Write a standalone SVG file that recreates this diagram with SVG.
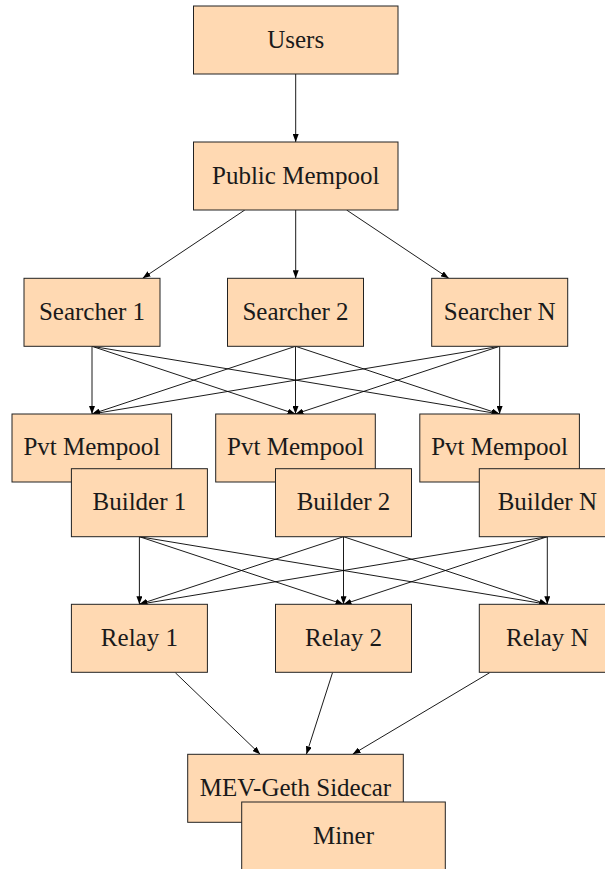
<svg xmlns="http://www.w3.org/2000/svg" width="605" height="869" viewBox="0 0 605 869">
<style>
.box{fill:#FFD9B2;stroke:#222;stroke-width:1}
.lbl{font-family:"Liberation Serif","Times New Roman",serif;font-size:25px;fill:#1a1a1a;text-anchor:middle}
.c{stroke:#000;stroke-width:0.9;fill:none;marker-end:url(#ah)}
</style>
<defs>
<marker id="ah" viewBox="0 0 8 6" refX="8" refY="3" markerWidth="8" markerHeight="6" markerUnits="userSpaceOnUse" orient="auto">
<path d="M0,0 L8,3 L0,6 Z" fill="#000"/>
</marker>
</defs>
<rect width="605" height="869" fill="#fff"/>
<g id="connectors">
<line class="c" x1="295.7" y1="74" x2="295.7" y2="142"/>
<line class="c" x1="244.8" y1="210" x2="142.6" y2="278.3"/>
<line class="c" x1="295.7" y1="210" x2="295.7" y2="278.3"/>
<line class="c" x1="346.6" y1="210" x2="448.8" y2="278.3"/>
<line class="c" x1="92" y1="346.3" x2="92" y2="414"/>
<line class="c" x1="92" y1="346.3" x2="295.5" y2="414"/>
<line class="c" x1="92" y1="346.3" x2="499.6" y2="414"/>
<line class="c" x1="295.5" y1="346.3" x2="92" y2="414"/>
<line class="c" x1="295.5" y1="346.3" x2="295.5" y2="414"/>
<line class="c" x1="295.5" y1="346.3" x2="499.6" y2="414"/>
<line class="c" x1="499.7" y1="346.3" x2="92" y2="414"/>
<line class="c" x1="499.7" y1="346.3" x2="295.5" y2="414"/>
<line class="c" x1="499.7" y1="346.3" x2="499.6" y2="414"/>
<line class="c" x1="139.4" y1="536.7" x2="139.4" y2="604.3"/>
<line class="c" x1="139.4" y1="536.7" x2="343.5" y2="604.3"/>
<line class="c" x1="139.4" y1="536.7" x2="547.3" y2="604.3"/>
<line class="c" x1="343.5" y1="536.7" x2="139.4" y2="604.3"/>
<line class="c" x1="343.5" y1="536.7" x2="343.5" y2="604.3"/>
<line class="c" x1="343.5" y1="536.7" x2="547.3" y2="604.3"/>
<line class="c" x1="547.3" y1="536.7" x2="139.4" y2="604.3"/>
<line class="c" x1="547.3" y1="536.7" x2="343.5" y2="604.3"/>
<line class="c" x1="547.3" y1="536.7" x2="547.3" y2="604.3"/>
<line class="c" x1="175.3" y1="672.7" x2="260.2" y2="754.3"/>
<line class="c" x1="332.5" y1="672.7" x2="306.4" y2="754.3"/>
<line class="c" x1="489.7" y1="672.7" x2="352.6" y2="754.3"/>
</g>
<g id="users"><rect class="box" x="193.5" y="6" width="204.5" height="68"/><text class="lbl" x="295.7" y="47.5">Users</text></g>
<g id="public-mempool"><rect class="box" x="193.5" y="142" width="204.5" height="68"/><text class="lbl" x="295.7" y="183.5">Public Mempool</text></g>
<g id="searcher-1"><rect class="box" x="24" y="278.3" width="136" height="68"/><text class="lbl" x="92" y="319.5">Searcher 1</text></g>
<g id="searcher-2"><rect class="box" x="227.5" y="278.3" width="136" height="68"/><text class="lbl" x="295.5" y="319.5">Searcher 2</text></g>
<g id="searcher-n"><rect class="box" x="431.7" y="278.3" width="136" height="68"/><text class="lbl" x="499.7" y="319.5">Searcher N</text></g>
<g id="pvt-mempool-1"><rect class="box" x="12" y="414" width="159.6" height="68"/><text class="lbl" x="91.8" y="455">Pvt Mempool</text></g>
<g id="pvt-mempool-2"><rect class="box" x="215.7" y="414" width="159.6" height="68"/><text class="lbl" x="295.5" y="455">Pvt Mempool</text></g>
<g id="pvt-mempool-n"><rect class="box" x="419.8" y="414" width="159.6" height="68"/><text class="lbl" x="499.6" y="455">Pvt Mempool</text></g>
<g id="builder-1"><rect class="box" x="71.4" y="468.7" width="136" height="68"/><text class="lbl" x="139.4" y="510">Builder 1</text></g>
<g id="builder-2"><rect class="box" x="275.5" y="468.7" width="136" height="68"/><text class="lbl" x="343.5" y="510">Builder 2</text></g>
<g id="builder-n"><rect class="box" x="479.3" y="468.7" width="136" height="68"/><text class="lbl" x="547.3" y="510">Builder N</text></g>
<g id="relay-1"><rect class="box" x="71.4" y="604.3" width="136" height="68"/><text class="lbl" x="139.4" y="645.5">Relay 1</text></g>
<g id="relay-2"><rect class="box" x="275.5" y="604.3" width="136" height="68"/><text class="lbl" x="343.5" y="645.5">Relay 2</text></g>
<g id="relay-n"><rect class="box" x="479.3" y="604.3" width="136" height="68"/><text class="lbl" x="547.3" y="645.5">Relay N</text></g>
<g id="mev-geth-sidecar"><rect class="box" x="187.7" y="754.3" width="215.6" height="68"/><text class="lbl" x="295.5" y="795.5">MEV-Geth Sidecar</text></g>
<g id="miner"><rect class="box" x="241.7" y="802" width="203.6" height="68"/><text class="lbl" x="343.5" y="843.5">Miner</text></g>
</svg>
